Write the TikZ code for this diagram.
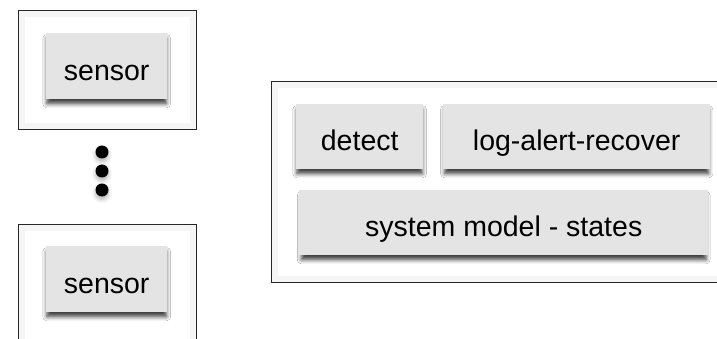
\documentclass[tikz,border=0pt]{standalone}
\usepackage{fontspec}
\setmainfont{Liberation Sans}
\usetikzlibrary{shadows.blur}
\definecolor{boxfill}{HTML}{E4E4E4}
\tikzset{
  outerbox/.style={draw=black!85, line width=1pt, fill=white},
  glow/.style={draw=black!4, line width=6pt},
  inner/.style={fill=boxfill, draw=none, font=\fontsize{28.5}{31}\selectfont, anchor=north west, inner sep=0pt,
    text height=28pt, text depth=0pt,
    blur shadow={shadow xshift=0pt, shadow yshift=-5pt, shadow blur radius=4pt, shadow opacity=75, shadow scale=0.99}},
  dot/.style={circle, fill=black, inner sep=0pt, minimum size=13pt,
    blur shadow={shadow xshift=0pt, shadow yshift=-3pt, shadow blur radius=4pt, shadow opacity=30}}
}
\begin{document}
\begin{tikzpicture}[x=1pt,y=-1pt]
\useasboundingbox (0,0) rectangle (717,339);
% left top
\draw[outerbox] (18,11) rectangle (196,130);
\draw[glow] (21.5,14.5) rectangle (192.5,126.5);
\draw[outerbox,fill=none] (18,11) rectangle (196,130);
\node[inner, minimum width=121pt, minimum height=66pt] (s1) at (46,33) {sensor};
% dots
\node[dot] (d1) at (102,152) {};
\node[dot] (d2) at (102,171) {};
\node[dot] (d3) at (102,190) {};
% left bottom
\draw[outerbox] (18,345) -- (18,224) -- (196,224) -- (196,345);
\draw[glow] (21.5,345) -- (21.5,227.5) -- (192.5,227.5) -- (192.5,345);
\draw[outerbox,fill=none] (18,345) -- (18,224) -- (196,224) -- (196,345);
\node[inner, minimum width=121pt, minimum height=66pt] (s2) at (46,246) {sensor};
% right
\draw[outerbox] (725,82) -- (271,82) -- (271,282) -- (725,282);
\draw[glow] (725,85.5) -- (274.5,85.5) -- (274.5,278.5) -- (725,278.5);
\draw[outerbox,fill=none] (725,82) -- (271,82) -- (271,282) -- (725,282);
\node[inner, minimum width=127pt, minimum height=65pt] (det) at (296,104) {detect};
\node[inner, minimum width=267pt, minimum height=65pt] (lar) at (443,104) {log-alert-recover};
\node[inner, minimum width=409pt, minimum height=65pt] (sys) at (299,190) {system model - states};
\end{tikzpicture}
\end{document}
